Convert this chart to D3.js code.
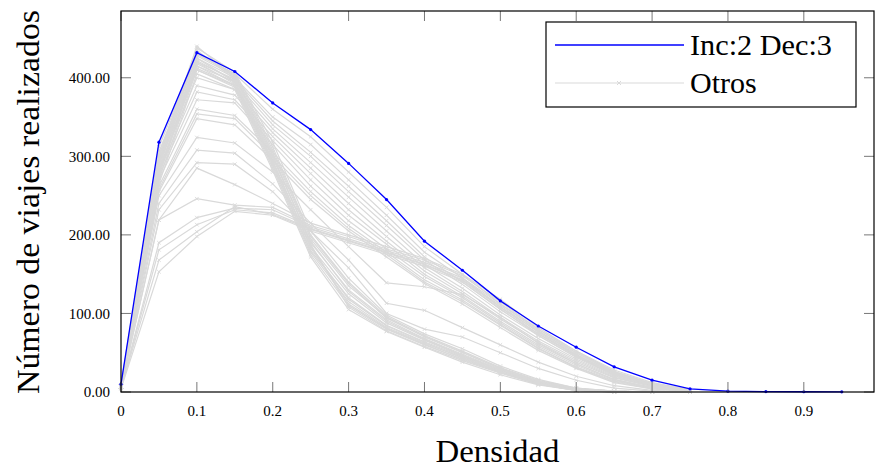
<!DOCTYPE html>
<html>
<head>
<meta charset="utf-8">
<script src="https://cdn.jsdelivr.net/npm/d3@7"></script>
<style>
  body { margin: 0; background: #fff; }
  svg { display: block; font-family: "Liberation Serif", "DejaVu Serif", serif; }
</style>
</head>
<body>
<svg width="875" height="468"></svg>
<script>
// DATA
const densidad = [0, 0.05, 0.1, 0.15, 0.2, 0.25, 0.3, 0.35, 0.4, 0.45,
  0.5, 0.55, 0.6, 0.65, 0.7, 0.75, 0.8, 0.85, 0.9, 0.95];

const incDec = [10, 318, 432, 408, 368, 334, 291, 245, 192, 155,
  116, 84, 57, 32, 15, 4, 1, 0.5, 0.3, 0.2];

// steep drop after 0.15
const otrosA = [
  [8, 300, 440, 400, 305, 195, 135, 95, 70, 50, 30, 14, 4, 1, 0, 0],
  [8, 295, 435, 398, 300, 190, 130, 92, 68, 48, 29, 13, 4, 1, 0, 0],
  [7, 290, 430, 405, 312, 200, 140, 96, 72, 52, 31, 15, 5, 1, 0, 0],
  [7, 285, 425, 395, 295, 185, 125, 88, 66, 46, 28, 12, 3, 0, 0, 0],
  [7, 280, 420, 392, 290, 180, 120, 85, 64, 45, 27, 12, 3, 0, 0, 0],
  [6, 275, 415, 390, 288, 178, 115, 82, 62, 44, 26, 11, 3, 0, 0, 0],
  [6, 270, 410, 388, 285, 175, 110, 80, 60, 42, 25, 10, 2, 0, 0, 0],
  [6, 305, 428, 402, 302, 188, 108, 78, 58, 40, 24, 10, 2, 0, 0, 0],
  [7, 298, 438, 407, 318, 205, 145, 98, 74, 55, 33, 16, 5, 1, 0, 0],
  [6, 265, 405, 385, 282, 172, 105, 77, 57, 38, 22, 9, 2, 0, 0, 0],
  [7, 288, 422, 396, 298, 192, 128, 90, 67, 47, 28, 13, 4, 1, 0, 0],
  [6, 278, 418, 394, 293, 183, 118, 84, 63, 43, 26, 11, 3, 0, 0, 0],
  [7, 292, 432, 403, 308, 198, 138, 94, 71, 51, 30, 14, 4, 1, 0, 0],
  [6, 282, 412, 391, 292, 186, 112, 81, 61, 41, 25, 10, 2, 0, 0, 0]
];

// smooth decline, below the blue line
const otrosB = [
  [9, 312, 430, 405, 360, 325, 280, 235, 185, 150, 112, 80, 52, 28, 12, 3],
  [9, 305, 425, 400, 350, 315, 270, 225, 178, 145, 108, 77, 50, 26, 11, 3],
  [8, 300, 420, 398, 345, 305, 262, 218, 172, 140, 105, 74, 47, 24, 10, 2],
  [8, 295, 415, 395, 340, 300, 255, 212, 168, 137, 102, 72, 45, 22, 9, 2],
  [8, 290, 410, 390, 335, 292, 248, 205, 162, 132, 98, 68, 42, 20, 8, 2],
  [8, 285, 400, 385, 330, 285, 240, 198, 158, 128, 95, 65, 40, 19, 7, 1],
  [8, 280, 390, 378, 325, 278, 232, 192, 154, 125, 93, 63, 38, 18, 7, 1],
  [7, 275, 382, 372, 320, 270, 225, 188, 150, 122, 90, 60, 36, 16, 6, 1],
  [7, 270, 372, 368, 315, 262, 218, 182, 147, 120, 88, 58, 34, 15, 5, 1],
  [7, 262, 360, 352, 305, 255, 212, 178, 143, 117, 86, 56, 32, 14, 5, 1],
  [7, 258, 354, 348, 300, 250, 208, 175, 140, 115, 85, 55, 31, 13, 4, 1],
  [7, 255, 348, 340, 295, 245, 205, 172, 138, 112, 82, 53, 30, 12, 4, 1]
];

// medium peak
const otrosD = [
  [7, 250, 324, 317, 280, 232, 185, 139, 134, 124, 95, 62, 36, 16, 5, 1],
  [7, 240, 308, 304, 265, 215, 168, 113, 104, 82, 60, 38, 20, 8, 2, 0],
  [6, 232, 292, 290, 255, 205, 158, 100, 80, 70, 50, 30, 15, 5, 1, 0]
];

// low peak, flat
const otrosC = [
  [6, 219, 285, 264, 240, 215, 200, 185, 170, 150, 118, 82, 52, 26, 10, 2],
  [6, 219, 246, 238, 235, 212, 198, 182, 168, 148, 115, 80, 50, 25, 9, 2],
  [5, 190, 222, 234, 232, 210, 195, 180, 165, 145, 112, 78, 48, 24, 9, 2],
  [5, 181, 213, 232, 228, 208, 193, 178, 163, 143, 110, 76, 47, 23, 8, 2],
  [5, 168, 204, 236, 226, 207, 192, 177, 162, 142, 108, 74, 46, 22, 8, 1],
  [4, 153, 198, 230, 225, 205, 190, 175, 160, 140, 106, 72, 44, 21, 7, 1]
];

const yTicks = [0, 100, 200, 300, 400];
const xTicks = [0, 0.1, 0.2, 0.3, 0.4, 0.5, 0.6, 0.7, 0.8, 0.9];

const svg = d3.select("svg");

// CONSTANTS
const margin = { top: 11, left: 121, right: 1, bottom: 76 };
const width = +svg.attr("width");
const height = +svg.attr("height");
const grayColor = "#d9d9d9";
const blueColor = "#0000ff";

// Accessor functions
const toPoints = values => values.map((v, i) => ({ x: densidad[i], y: v }));

// SCALES
const xScale = d3.scaleLinear()
  .domain([0, 0.9925])
  .range([margin.left, width - margin.right]);
const yScale = d3.scaleLinear()
  .domain([0, 485])
  .range([height - margin.bottom, margin.top]);

const line = d3.line().x(d => xScale(d.x)).y(d => yScale(d.y));

const x0 = xScale.range()[0], x1 = xScale.range()[1];
const y0 = yScale.range()[0], y1 = yScale.range()[1];

// gray series
const otros = [...otrosC, ...otrosD, ...otrosB, ...otrosA].map(toPoints);

const gGray = svg.append("g");
gGray.selectAll("path")
  .data(otros)
  .enter()
  .append("path")
  .attr("d", line)
  .attr("fill", "none")
  .attr("stroke", grayColor)
  .attr("stroke-width", 1.2);

gGray.selectAll("g.marks")
  .data(otros)
  .enter()
  .append("g")
  .selectAll("path")
  .data(d => d)
  .enter()
  .append("path")
  .attr("d", d => {
    const cx = xScale(d.x), cy = yScale(d.y), s = 1.8;
    return `M${cx - s},${cy - s}L${cx + s},${cy + s}M${cx - s},${cy + s}L${cx + s},${cy - s}`;
  })
  .attr("stroke", grayColor)
  .attr("stroke-width", 0.9);

// blue series
const blue = toPoints(incDec);
svg.append("path")
  .datum(blue)
  .attr("d", line)
  .attr("fill", "none")
  .attr("stroke", blueColor)
  .attr("stroke-width", 1.3);

svg.selectAll("circle.blue")
  .data(blue)
  .enter()
  .append("circle")
  .attr("class", "blue")
  .attr("cx", d => xScale(d.x))
  .attr("cy", d => yScale(d.y))
  .attr("r", 1.6)
  .attr("fill", blueColor);

// ticks (inside, on all four sides)
const tickLen = 10;
const gTicks = svg.append("g").attr("stroke", "#777").attr("stroke-width", 1);
xTicks.forEach(t => {
  const x = xScale(t);
  gTicks.append("line").attr("x1", x).attr("x2", x).attr("y1", y0).attr("y2", y0 - tickLen);
  gTicks.append("line").attr("x1", x).attr("x2", x).attr("y1", y1).attr("y2", y1 + tickLen);
});
yTicks.forEach(t => {
  const y = yScale(t);
  gTicks.append("line").attr("x1", x0).attr("x2", x0 + tickLen).attr("y1", y).attr("y2", y);
  gTicks.append("line").attr("x1", x1).attr("x2", x1 - tickLen).attr("y1", y).attr("y2", y);
});

// frame
svg.append("rect")
  .attr("x", x0)
  .attr("y", y1)
  .attr("width", x1 - x0)
  .attr("height", y0 - y1)
  .attr("fill", "none")
  .attr("stroke", "#000")
  .attr("stroke-width", 1.2);

// tick labels
svg.append("g").selectAll("text")
  .data(xTicks)
  .enter()
  .append("text")
  .attr("x", d => xScale(d))
  .attr("y", y0 + 24)
  .attr("text-anchor", "middle")
  .attr("font-size", 15)
  .text(d => d === 0 ? "0" : d3.format(".1f")(d));

svg.append("g").selectAll("text")
  .data(yTicks)
  .enter()
  .append("text")
  .attr("x", x0 - 11)
  .attr("y", d => yScale(d))
  .attr("dy", "0.35em")
  .attr("text-anchor", "end")
  .attr("font-size", 15)
  .text(d3.format(".2f"));

// axis titles
svg.append("text")
  .attr("x", (x0 + x1) / 2)
  .attr("y", 462)
  .attr("text-anchor", "middle")
  .attr("font-size", 31)
  .attr("textLength", 124)
  .attr("lengthAdjust", "spacingAndGlyphs")
  .text("Densidad");

svg.append("text")
  .attr("transform", `translate(39, 202) rotate(-90)`)
  .attr("text-anchor", "middle")
  .attr("font-size", 31)
  .attr("textLength", 384)
  .attr("lengthAdjust", "spacingAndGlyphs")
  .text("Número de viajes realizados");

// legend
const legend = svg.append("g").attr("transform", "translate(546, 22)");
legend.append("rect")
  .attr("width", 310)
  .attr("height", 85)
  .attr("fill", "#fff")
  .attr("stroke", "#000")
  .attr("stroke-width", 1.2);
legend.append("line")
  .attr("x1", 9).attr("x2", 138).attr("y1", 23).attr("y2", 23)
  .attr("stroke", blueColor).attr("stroke-width", 1.3);
legend.append("line")
  .attr("x1", 9).attr("x2", 138).attr("y1", 61).attr("y2", 61)
  .attr("stroke", grayColor).attr("stroke-width", 1.2);
legend.append("path")
  .attr("d", "M71,59L75,63M71,63L75,59")
  .attr("stroke", grayColor)
  .attr("stroke-width", 1);
legend.append("text")
  .attr("x", 144).attr("y", 33)
  .attr("font-size", 30)
  .attr("textLength", 142)
  .attr("lengthAdjust", "spacingAndGlyphs")
  .text("Inc:2 Dec:3");
legend.append("text")
  .attr("x", 144).attr("y", 71)
  .attr("font-size", 30)
  .text("Otros");
</script>
</body>
</html>
